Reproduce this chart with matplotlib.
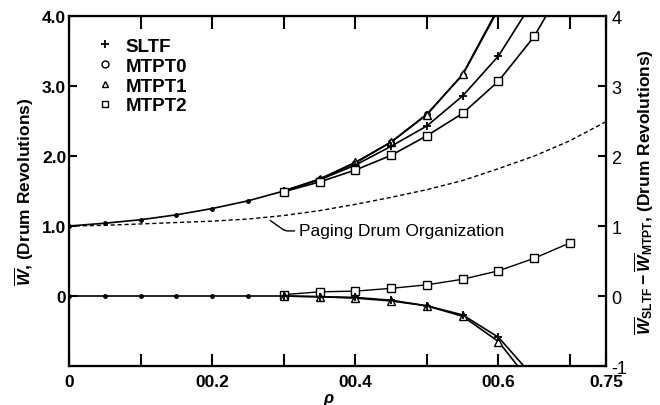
import numpy as np
import matplotlib
matplotlib.use('Agg')
import matplotlib.pyplot as plt
from matplotlib.lines import Line2D

plt.rcParams['font.family'] = ['Liberation Sans', 'DejaVu Sans']
plt.rcParams['mathtext.fontset'] = 'custom'
plt.rcParams['mathtext.rm'] = 'Liberation Sans:bold'
plt.rcParams['mathtext.it'] = 'Liberation Sans:bold:italic'
plt.rcParams['mathtext.bf'] = 'Liberation Sans:bold'

# common part (all disciplines coincide at low load)
rho_base = [0.0, 0.05, 0.10, 0.15, 0.20, 0.25, 0.30]
w_base = [1.00, 1.04, 1.09, 1.16, 1.25, 1.36, 1.50]
d_base = [0, 0, 0, 0, 0, 0, 0]

# upper curves, mean wait
rho_hi = [0.30, 0.35, 0.40, 0.45, 0.50, 0.55, 0.60, 0.65, 0.70]
w_sltf = [1.50, 1.66, 1.87, 2.14, 2.43, 2.86, 3.43, 4.24, np.nan]
w_mtpt0 = [1.50, 1.67, 1.90, 2.20, 2.60, 3.16, 4.10, np.nan, np.nan]
w_mtpt1 = [1.50, 1.67, 1.91, 2.20, 2.59, 3.17, 4.12, np.nan, np.nan]
w_mtpt2 = [1.49, 1.63, 1.80, 2.01, 2.29, 2.61, 3.07, 3.71, 4.60]

# paging drum organization (dashed)
rho_pd = [0.0, 0.05, 0.10, 0.15, 0.20, 0.25, 0.30, 0.35, 0.40, 0.45,
          0.50, 0.55, 0.60, 0.65, 0.70, 0.75]
w_pd = [1.00, 1.01, 1.03, 1.05, 1.07, 1.10, 1.15, 1.22, 1.31, 1.41,
        1.52, 1.65, 1.82, 2.00, 2.22, 2.49]

# differences W_SLTF - W_MTPT
d_mtpt2 = [0.02, 0.06, 0.07, 0.11, 0.16, 0.24, 0.36, 0.54, 0.76]
d_mtpt1 = [0.00, -0.01, -0.03, -0.07, -0.14, -0.29, -0.65, -1.30, np.nan]
d_mtpt0 = [0.00, -0.01, -0.02, -0.06, -0.14, -0.27, -0.59, -1.17, np.nan]

xticks = [0, 0.1, 0.2, 0.3, 0.4, 0.5, 0.6, 0.7, 0.75]
xticklabels = ['0', '', '00.2', '', '00.4', '', '00.6', '', '0.75']
lyticks = [0, 1, 2, 3, 4]
lyticklabels = ['0', '1.0', '2.0', '3.0', '4.0']
ryticks = [-1, 0, 1, 2, 3, 4]
ryticklabels = ['-1', '0', '1', '2', '3', '4']

fig = plt.figure(figsize=(6.6, 4.06), dpi=100)
ax = fig.add_axes([0.1045, 0.096, 0.8135, 0.862])

lw = 1.2
# low-load parts with small dots
ax.plot(rho_base, w_base, color='black', lw=lw, marker='o', ms=2.5)
ax.plot(rho_base, d_base, color='black', lw=lw, marker='o', ms=2.5)

ax.plot(rho_pd, w_pd, color='black', lw=1.0, ls=(0, (3, 2)))

ax.plot(rho_hi, w_mtpt0, color='black', lw=lw, marker='o', ms=4, mfc='white')
ax.plot(rho_hi, w_mtpt1, color='black', lw=lw, marker='^', ms=6, mfc='white')
ax.plot(rho_hi, w_sltf, color='black', lw=lw, marker='+', ms=6, mew=1.3)
ax.plot(rho_hi, w_mtpt2, color='black', lw=lw, marker='s', ms=6, mfc='white')

ax.plot(rho_hi, d_mtpt2, color='black', lw=1.0, marker='s', ms=6, mfc='white')
ax.plot(rho_hi, d_mtpt1, color='black', lw=lw, marker='^', ms=6, mfc='white')
ax.plot(rho_hi, d_mtpt0, color='black', lw=lw, marker='+', ms=6, mew=1.3)

ax.set_xlim(0, 0.75)
ax.set_ylim(-1, 4)
ax.set_xticks(xticks)
ax.set_xticklabels(xticklabels)
ax.set_yticks(lyticks)
ax.set_yticklabels(lyticklabels)
ax.tick_params(axis='x', direction='in', length=9, width=1.5, top=True,
               labelsize=12.5, pad=6)
ax.tick_params(axis='y', direction='in', length=6, width=1.5,
               labelsize=12.5, pad=2)
for lab in ax.get_xticklabels() + ax.get_yticklabels():
    lab.set_fontweight('bold')
for sp in ax.spines.values():
    sp.set_linewidth(1.6)

ax.set_xlabel(r'$\rho$', fontsize=12)
ax.xaxis.set_label_coords(0.484, -0.07)
ax.set_ylabel(r'$\overline{W}$, (Drum Revolutions)', fontsize=12.5,
              fontweight='bold', labelpad=4)

ax2 = ax.twinx()
ax2.set_ylim(-1, 4)
ax2.set_yticks(ryticks)
ax2.set_yticklabels(ryticklabels)
ax2.tick_params(axis='y', direction='in', length=6, width=1.5,
                labelsize=13, pad=4)
ax2.set_ylabel(r'$\overline{W}_{\rm SLTF} - \overline{W}_{\rm MTPT}$, (Drum Revolutions)',
               fontsize=12.5, fontweight='bold', rotation=90, labelpad=4)

ax.annotate('Paging Drum Organization', xy=(0.281, 1.08), xytext=(0.321, 0.93),
            fontsize=12.5, va='center', ha='left',
            arrowprops=dict(arrowstyle='-', color='black', lw=1.0,
                            shrinkA=1, shrinkB=0,
                            connectionstyle='angle,angleA=0,angleB=-35,rad=3'))

handles = [
    Line2D([], [], ls='none', marker='+', ms=6, mew=1.3, color='black'),
    Line2D([], [], ls='none', marker='o', ms=5, mfc='white', color='black'),
    Line2D([], [], ls='none', marker='^', ms=5, mfc='white', color='black'),
    Line2D([], [], ls='none', marker='s', ms=5, mfc='white', color='black'),
]
leg = ax.legend(handles, ['SLTF', 'MTPT0', 'MTPT1', 'MTPT2'], loc='upper left',
                bbox_to_anchor=(0.035, 0.96), frameon=False, handlelength=1.0,
                handletextpad=0.6, labelspacing=0.15, fontsize=13.5,
                borderaxespad=0)
for t in leg.get_texts():
    t.set_fontweight('bold')

fig.savefig('out.png', dpi=100)
